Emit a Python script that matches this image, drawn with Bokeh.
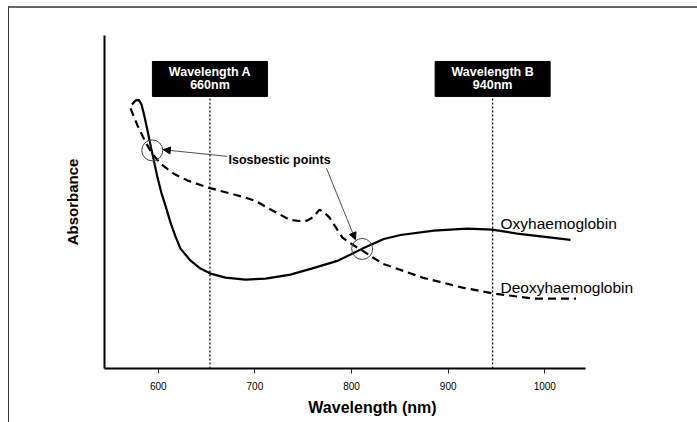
from bokeh.plotting import figure
from bokeh.models import Range1d, FixedTicker, Arrow, NormalHead, Label
from bokeh.core.properties import value
from bokeh.embed import file_html
from bokeh.resources import INLINE

# ---- data (absorbance in arbitrary units) ----
oxy_nm = [572.8, 576.5, 580.1, 582.7, 585.3, 588.9, 592.5, 596.1, 599.2, 603.4,
          607.5, 612.7, 617.9, 623.0, 633.4, 643.7, 654.1, 669.6, 690.3, 711.0,
          736.8, 758.6, 786.3, 811.3, 833.4, 850.7, 885.1, 919.7, 945.5, 971.4, 1026.6]
oxy_abs = [0.793, 0.805, 0.806, 0.793, 0.763, 0.715, 0.664, 0.616, 0.574, 0.526,
           0.489, 0.438, 0.396, 0.360, 0.324, 0.300, 0.285, 0.273, 0.267, 0.270,
           0.282, 0.300, 0.324, 0.360, 0.389, 0.401, 0.414, 0.420, 0.417, 0.405, 0.386]

deoxy_nm = [571.3, 578.5, 586.8, 593.8, 602.4, 616.1, 630.0, 650.7, 689.3, 701.0,
            712.7, 735.8, 745.0, 754.1, 760.5, 766.8, 772.0, 777.2, 790.6, 801.0,
            811.3, 832.0, 873.4, 914.8, 946.9, 988.3, 1032.3]
deoxy_abs = [0.781, 0.730, 0.680, 0.645, 0.615, 0.585, 0.565, 0.544, 0.514, 0.503,
             0.483, 0.447, 0.443, 0.444, 0.455, 0.477, 0.468, 0.453, 0.393, 0.372,
             0.354, 0.315, 0.273, 0.243, 0.225, 0.210, 0.210]

x_ticks = [600, 700, 800, 900, 1000]
x_axis_extent = (544.4, 1042.1)

marker_nm = [653.5, 946.0]
marker_title = ["Wavelength A", "Wavelength B"]
marker_value = ["660nm", "940nm"]

iso_nm = [593.8, 811.0]
iso_abs = [0.655, 0.359]

FONT = "Liberation Sans"

p = figure(
    output_backend="svg", toolbar_location=None,
    frame_width=536, frame_height=333,
    min_border_left=95, min_border_right=57, min_border_top=27, min_border_bottom=54,
    x_range=Range1d(544.4, 1099.0), y_range=Range1d(0, 1),
    x_axis_label="Wavelength (nm)", y_axis_label="Absorbance",
    styles={"border-top": "2px solid #666666", "border-left": "1px solid #333333",
            "margin-left": "8px", "margin-top": "6px"},
)
p.outline_line_color = None
p.grid.visible = False
p.background_fill_color = "white"
p.border_fill_color = "white"

xa = p.xaxis[0]
xa.bounds = x_axis_extent
xa.ticker = FixedTicker(ticks=x_ticks)
xa.minor_tick_line_color = None
xa.major_tick_in = 0
xa.major_tick_out = 5
xa.major_tick_line_color = "#222222"
xa.major_label_text_font = FONT
xa.major_label_text_font_size = "10px"
xa.major_label_text_color = "black"
xa.major_label_standoff = 8
xa.axis_line_width = 2
xa.axis_line_color = "black"
xa.axis_label_text_font = FONT
xa.axis_label_text_font_size = "16px"
xa.axis_label_text_font_style = "bold"
xa.axis_label_text_color = "black"
xa.axis_label_standoff = 6

ya = p.yaxis[0]
ya.ticker = FixedTicker(ticks=[])
ya.minor_tick_line_color = None
ya.major_tick_in = 0
ya.major_tick_out = 0
ya.axis_line_width = 2
ya.axis_line_color = "black"
ya.axis_label_text_font = FONT
ya.axis_label_text_font_size = "15px"
ya.axis_label_text_font_style = "bold"
ya.axis_label_text_color = "black"
ya.axis_label_standoff = 24

# wavelength marker lines and boxes
half_w = 59.5
box_top, box_bottom = 0.922, 0.817
p.segment(x0=marker_nm, y0=[0, 0], x1=marker_nm, y1=[box_bottom] * 2,
          line_color="black", line_width=1.2, line_dash="2 2")
p.quad(left=[m - half_w for m in marker_nm], right=[m + half_w for m in marker_nm],
       top=[box_top] * 2, bottom=[box_bottom] * 2, fill_color="black", line_color="black")
p.text(x=marker_nm, y=[0.889] * 2, text=marker_title, text_color="white",
       text_font=value(FONT), text_font_size="12.5px", text_font_style="bold",
       text_align="center", text_baseline="middle")
p.text(x=marker_nm, y=[0.850] * 2, text=marker_value, text_color="white",
       text_font=value(FONT), text_font_size="12.5px", text_font_style="bold",
       text_align="center", text_baseline="middle")

# curves
p.line(oxy_nm, oxy_abs, line_color="black", line_width=2.2, line_join="round")
p.line(deoxy_nm, deoxy_abs, line_color="black", line_width=2.2, line_dash="8 5")

# isosbestic circles
p.scatter(iso_nm, iso_abs, marker="circle", size=21, fill_color=None,
          line_color="#444444", line_width=1)

# annotation text and arrows
p.text(x=[672.7], y=[0.625], text=["Isosbestic points"], text_color="black",
       text_font=value(FONT), text_font_size="12.5px", text_font_style="bold",
       text_align="left", text_baseline="middle")
p.add_layout(Arrow(end=NormalHead(size=7, fill_color="black", line_color="black", line_width=1),
                   x_start=671.3, y_start=0.637, x_end=iso_nm[0] + 11.5, y_end=iso_abs[0] + 0.002,
                   line_color="#222222", line_width=0.8))
p.add_layout(Arrow(end=NormalHead(size=7, fill_color="black", line_color="black", line_width=1),
                   x_start=774.1, y_start=0.601, x_end=iso_nm[1] - 7.0, y_end=iso_abs[1] + 0.028,
                   line_color="#222222", line_width=0.8))

for txt, yy in [("Oxyhaemoglobin", 0.435), ("Deoxyhaemoglobin", 0.243)]:
    p.add_layout(Label(x=954.1, y=yy, text=txt, text_color="black", text_font=FONT,
                       text_font_size="15.5px", text_align="left", text_baseline="alphabetic"))

open("out.html", "w").write(file_html(p, INLINE))
